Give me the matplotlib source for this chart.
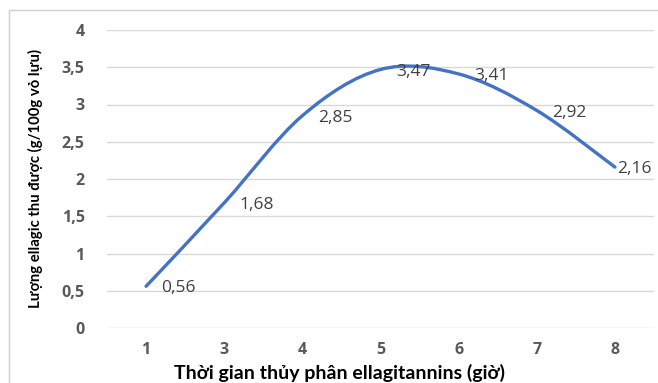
import matplotlib
matplotlib.use("Agg")
import matplotlib.pyplot as plt
from matplotlib.path import Path
from matplotlib.patches import PathPatch, Rectangle
import numpy as np

categories = ["1", "3", "4", "5", "6", "7", "8"]
values = [0.56, 1.68, 2.85, 3.47, 3.41, 2.92, 2.16]
value_labels = ["0,56", "1,68", "2,85", "3,47", "3,41", "2,92", "2,16"]
y_ticks = [0, 0.5, 1, 1.5, 2, 2.5, 3, 3.5, 4]
y_tick_labels = ["0", "0,5", "1", "1,5", "2", "2,5", "3", "3,5", "4"]
x_title = "Thời gian thủy phân ellagitannins (giờ)"
y_title = "Lượng ellagic thu được (g/100g vỏ lựu)"

fig = plt.figure(figsize=(6.58, 3.83), dpi=100)
W, H = 658, 383

# chart border (Excel chart area)
fig.patches.append(Rectangle((9 / W, -0.01), 1.0, 1 - 10 / H + 0.01, transform=fig.transFigure,
                             fill=False, edgecolor="#d0d0d0", linewidth=1.0))

ax = fig.add_axes([107 / W, 1 - 328 / H, (654 - 107) / W, (328 - 30) / H])
n = len(categories)
x = np.arange(n)
ax.set_xlim(-0.5, n - 0.5)
ax.set_ylim(0, 4)

for s in ax.spines.values():
    s.set_visible(False)
ax.set_yticks(y_ticks)
ax.set_yticklabels(y_tick_labels)
ax.set_xticks(x)
ax.set_xticklabels(categories)
ax.tick_params(length=0, colors="#595959", labelsize=11.5)
ax.tick_params(axis="y", pad=16)
ax.tick_params(axis="x", pad=10)
for lab in ax.get_xticklabels() + ax.get_yticklabels():
    lab.set_fontfamily("Open Sans")
    lab.set_fontweight("bold")
ax.yaxis.grid(True, color="#d9d9d9", linewidth=1.0)
ax.set_axisbelow(True)

# smoothed line (Catmull-Rom style Bezier, like Excel's smoothed lines)
pts = np.column_stack([x, values]).astype(float)
verts = [tuple(pts[0])]
codes = [Path.MOVETO]
for i in range(n - 1):
    p0 = pts[i - 1] if i > 0 else pts[i]
    p1 = pts[i]
    p2 = pts[i + 1]
    p3 = pts[i + 2] if i + 2 < n else pts[i + 1]
    c1 = p1 + (p2 - p0) / 6.0
    c2 = p2 - (p3 - p1) / 6.0
    verts += [tuple(c1), tuple(c2), tuple(p2)]
    codes += [Path.CURVE4] * 3
ax.add_patch(PathPatch(Path(verts, codes), fill=False, edgecolor="#4472C4",
                       linewidth=2.4, capstyle="round", joinstyle="round"))

for i, (xv, yv, lab) in enumerate(zip(x, values, value_labels)):
    dx = 11 if i < n - 1 else 1.5
    ax.annotate(lab, (xv, yv), xytext=(dx, -1.5), textcoords="offset points",
                ha="left", va="center", fontsize=12.5, color="#404040",
                fontfamily="Open Sans", clip_on=False)

fig.text(35 / W, 1 - 179 / H, y_title, rotation=90, ha="center", va="center",
         fontsize=10.7, fontweight="bold", fontfamily="Lato", color="black")
fig.text(340 / W, 1 - 373 / H, x_title, ha="center", va="center",
         fontsize=14, fontweight="bold", fontfamily="Lato", color="black")

fig.savefig("out.png", dpi=100)
